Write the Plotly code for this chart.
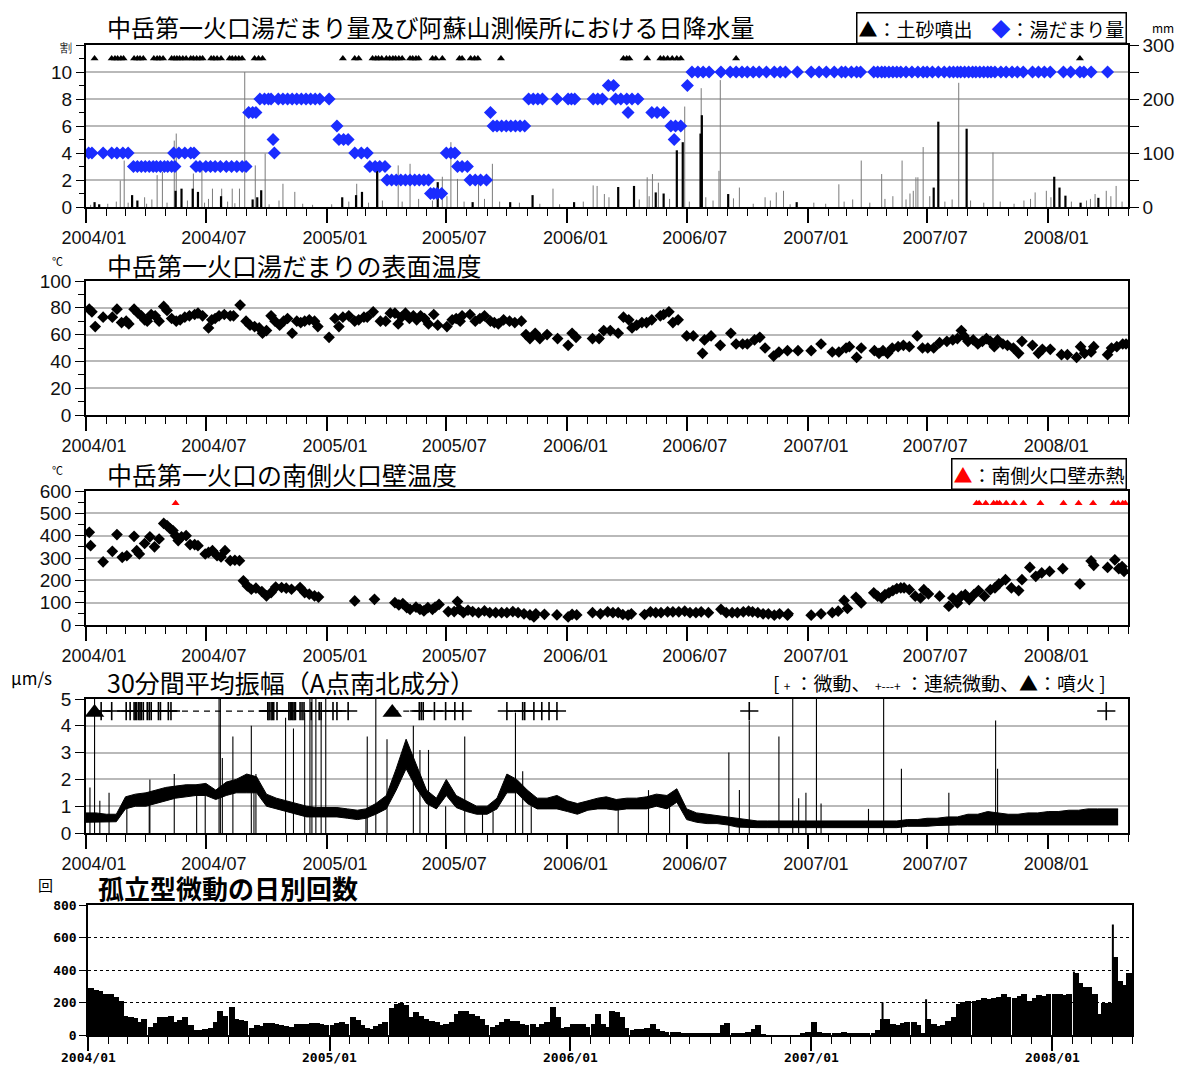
import plotly.graph_objects as go

# page body has an 8px margin; the figure is sized so the page is exactly 1188x1072
OFF = 8
W, H = 1188 - 2 * OFF, 1072 - 2 * OFF
X0, X1 = "2004-01-01", "2008-05-01"

# ---------------- Panel 1: pool volume (割), mud ejection, daily rain (mm) ----------------
pool_dates = [
    "2004-01-05", "2004-01-10", "2004-01-27", "2004-02-09", "2004-02-17", "2004-02-26", "2004-03-05",
    "2004-03-13", "2004-03-19", "2004-03-25", "2004-03-31", "2004-04-06", "2004-04-12", "2004-04-17",
    "2004-04-23", "2004-04-29", "2004-05-04", "2004-05-10", "2004-05-15",
    "2004-05-13", "2004-05-21", "2004-05-30", "2004-06-08", "2004-06-13",
    "2004-06-16", "2004-06-22", "2004-07-01", "2004-07-08", "2004-07-15", "2004-07-23", "2004-08-01",
    "2004-08-09", "2004-08-17", "2004-08-25", "2004-08-31",
    "2004-09-04", "2004-09-10", "2004-09-15",
    "2004-09-21", "2004-09-28", "2004-10-04", "2004-10-08",
    "2004-10-11", "2004-10-13",
    "2004-10-19", "2004-10-26", "2004-11-02", "2004-11-09", "2004-11-16", "2004-11-23", "2004-11-30",
    "2004-12-07", "2004-12-14", "2004-12-21", "2005-01-04",
    "2005-01-16", "2005-01-19", "2005-01-26", "2005-02-02",
    "2005-02-12", "2005-02-22", "2005-03-03",
    "2005-03-07", "2005-03-15", "2005-03-22", "2005-03-30",
    "2005-04-02", "2005-04-09", "2005-04-16", "2005-04-23", "2005-04-30", "2005-05-07", "2005-05-14",
    "2005-05-21", "2005-05-28", "2005-06-04",
    "2005-06-07", "2005-06-12", "2005-06-17", "2005-06-24",
    "2005-07-01", "2005-07-08", "2005-07-14",
    "2005-07-18", "2005-07-25", "2005-08-02",
    "2005-08-06", "2005-08-14", "2005-08-22", "2005-08-31",
    "2005-09-06",
    "2005-09-10", "2005-09-16", "2005-09-23", "2005-09-30", "2005-10-07", "2005-10-14", "2005-10-21", "2005-10-28",
    "2005-11-03", "2005-11-10", "2005-11-17", "2005-11-24", "2005-12-16",
    "2006-01-02", "2006-01-07", "2006-01-12", "2006-02-09", "2006-02-16", "2006-02-23",
    "2006-03-04", "2006-03-12",
    "2006-03-15", "2006-03-23", "2006-04-01", "2006-04-09", "2006-04-18",
    "2006-04-03",
    "2006-05-09", "2006-05-17", "2006-05-27",
    "2006-06-07", "2006-06-14", "2006-06-22",
    "2006-06-12",
    "2006-07-02",
    "2006-07-09", "2006-07-18", "2006-07-26", "2006-08-04", "2006-08-22", "2006-09-05", "2006-09-14",
    "2006-09-23", "2006-10-01", "2006-10-10", "2006-10-19", "2006-10-30", "2006-11-11", "2006-11-20",
    "2006-11-28", "2006-12-16", "2007-01-06", "2007-01-18", "2007-01-29", "2007-02-10", "2007-02-21",
    "2007-02-27", "2007-03-08", "2007-03-16", "2007-03-22", "2007-04-11", "2007-04-17", "2007-04-23",
    "2007-04-28", "2007-05-04", "2007-05-10", "2007-05-16", "2007-05-22", "2007-05-30", "2007-06-08",
    "2007-06-17", "2007-06-25", "2007-07-01", "2007-07-09", "2007-07-18", "2007-07-27", "2007-08-04",
    "2007-08-10", "2007-08-16", "2007-08-21", "2007-08-27", "2007-09-02", "2007-09-08", "2007-09-13",
    "2007-09-19", "2007-09-25", "2007-10-01", "2007-10-06", "2007-10-12", "2007-10-21", "2007-10-29",
    "2007-11-07", "2007-11-15", "2007-11-24", "2007-12-08", "2007-12-17", "2007-12-26", "2008-01-04",
    "2008-01-24", "2008-02-04", "2008-02-18", "2008-02-24", "2008-03-06", "2008-03-31", "2008-04-09",
    "2008-04-17", "2008-04-26",
]
pool_vals = (
    [4] * 7 + [3] * 12 + [4] * 5 + [3] * 11 + [7] * 3 + [8] * 4 + [5, 4] + [8] * 11
    + [6] + [5] * 3 + [4] * 3 + [3] * 4 + [2] * 10 + [1] * 4 + [4] * 3 + [3] * 3 + [2] * 4
    + [7] + [6] * 8 + [8] * 5 + [8] * 6 + [9] * 2 + [8] * 5 + [7] + [7] * 3 + [6] * 3 + [5] + [9]
    + [10] * 69
)

ejecta_dates = [
    "2004-01-14", "2004-02-09", "2004-02-14", "2004-02-18", "2004-02-23", "2004-02-27", "2004-03-14",
    "2004-03-19", "2004-03-23", "2004-03-28", "2004-04-13", "2004-04-18", "2004-04-22", "2004-04-27",
    "2004-05-10", "2004-05-14", "2004-05-18", "2004-05-22", "2004-05-27", "2004-06-01", "2004-06-08",
    "2004-06-12", "2004-06-17", "2004-06-22", "2004-06-26", "2004-07-09", "2004-07-13", "2004-07-18",
    "2004-07-24", "2004-08-06", "2004-08-10", "2004-08-15", "2004-08-20", "2004-08-25", "2004-09-13",
    "2004-09-19", "2004-09-25",
    "2005-01-25", "2005-02-12", "2005-02-18", "2005-03-11", "2005-03-16", "2005-03-20", "2005-03-25",
    "2005-04-01", "2005-04-06", "2005-04-11", "2005-04-15", "2005-04-20", "2005-04-25", "2005-05-07",
    "2005-05-11", "2005-05-16", "2005-05-20", "2005-06-10", "2005-06-15", "2005-06-25", "2005-07-21",
    "2005-07-25", "2005-08-07", "2005-08-13", "2005-08-18", "2005-09-22",
    "2006-03-27", "2006-04-01", "2006-04-05", "2006-05-02", "2006-05-22", "2006-05-27", "2006-06-02",
    "2006-06-09", "2006-06-16", "2006-06-22", "2006-09-14", "2008-02-18",
]

rain_black_dates = [
    "2004-01-14", "2004-01-21", "2004-03-11", "2004-03-19", "2004-05-16", "2004-05-25", "2004-06-11",
    "2004-06-19", "2004-07-24", "2004-09-10", "2004-09-17", "2004-09-23", "2005-01-24", "2005-02-14",
    "2005-02-23", "2005-03-18", "2005-06-18", "2005-08-10", "2005-10-06", "2005-11-09", "2006-01-11",
    "2006-03-19", "2006-04-12", "2006-05-15", "2006-05-27", "2006-06-16", "2006-06-25", "2006-07-22",
    "2006-07-24", "2006-09-02", "2006-12-15", "2007-07-11", "2007-07-18", "2007-08-30", "2008-01-10",
    "2008-01-18", "2008-01-27", "2008-02-19", "2008-03-17",
]
rain_black_mm = [
    9, 5, 22, 12, 30, 34, 34,
    28, 20, 14, 18, 31, 18, 22,
    28, 71, 46, 9, 9, 22, 9,
    37, 39, 27, 25, 105, 120, 136,
    170, 24, 9, 36, 158, 145, 56,
    36, 21, 8, 17,
]
rain_gray_dates = [
    "2004-02-22", "2004-02-28", "2004-03-30", "2004-04-18", "2004-04-26", "2004-05-14", "2004-05-17",
    "2004-06-12", "2004-06-25", "2004-07-11", "2004-07-25", "2004-08-10", "2004-08-21", "2004-08-29",
    "2004-09-14", "2004-09-29", "2004-10-26", "2004-11-13", "2005-02-15", "2005-03-19", "2005-04-19",
    "2005-05-07", "2005-06-25", "2005-07-08", "2005-07-18", "2005-08-19", "2005-09-09", "2005-12-10",
    "2006-02-09", "2006-02-15", "2006-02-26", "2006-05-02", "2006-05-10", "2006-05-19", "2006-06-28",
    "2006-07-23", "2006-08-19", "2006-08-21", "2006-09-19", "2006-11-14", "2006-11-25", "2007-02-17",
    "2007-03-23", "2007-04-23", "2007-05-24", "2007-06-14", "2007-06-17", "2007-06-25", "2007-08-18",
    "2007-10-09", "2007-12-12", "2007-12-29", "2008-03-12", "2008-03-29", "2008-04-13",
    # smaller daily amounts
    "2004-01-08", "2004-02-03", "2004-02-16", "2004-03-05", "2004-04-02", "2004-04-10", "2004-05-03",
    "2004-06-03", "2004-06-29", "2004-07-05", "2004-08-03", "2004-08-14", "2004-10-05", "2004-10-20",
    "2004-11-25", "2004-12-10", "2005-01-08", "2005-02-03", "2005-03-05", "2005-03-26", "2005-04-25",
    "2005-05-20", "2005-06-10", "2005-07-02", "2005-07-28", "2005-08-28", "2005-09-20", "2005-10-20",
    "2005-11-20", "2005-12-20", "2006-01-25", "2006-03-05", "2006-04-20", "2006-05-05", "2006-06-05",
    "2006-07-05", "2006-07-30", "2006-08-10", "2006-09-10", "2006-10-10", "2006-10-28", "2006-11-05",
    "2006-12-05", "2007-01-10", "2007-01-28", "2007-02-25", "2007-03-10", "2007-04-05", "2007-04-28",
    "2007-05-10", "2007-05-30", "2007-06-05", "2007-06-10", "2007-07-05", "2007-07-28", "2007-08-08",
    "2007-09-05", "2007-09-25", "2007-10-20", "2007-11-10", "2007-11-25", "2007-12-05", "2008-01-05",
    "2008-02-05", "2008-02-28", "2008-03-05", "2008-04-05", "2008-04-22",
]
rain_gray_mm = [
    49, 86, 18, 59, 65, 123, 136,
    62, 74, 34, 34, 34, 34, 250,
    77, 99, 43, 28, 43, 83, 77,
    80, 56, 120, 52, 49, 80, 34,
    40, 39, 24, 55, 61, 45, 186,
    220, 67, 235, 36, 27, 30, 42,
    86, 61, 86, 55, 55, 111, 230,
    101, 27, 30, 24, 30, 39,
    4, 6, 10, 8, 6, 14, 8,
    12, 8, 15, 10, 7, 5, 12,
    6, 4, 5, 10, 8, 12, 10,
    15, 12, 20, 10, 15, 10, 8,
    6, 5, 10, 18, 14, 20, 15,
    10, 18, 12, 16, 6, 18, 12,
    5, 8, 6, 10, 14, 8, 15,
    20, 14, 25, 30, 20, 10, 14,
    12, 8, 10, 6, 12, 15, 18,
    10, 12, 15, 20, 10,
]

# ---------------- Panel 2: pool surface temperature (°C) ----------------
surf_dates = [
    "2004-01-06", "2004-01-10", "2004-01-15", "2004-01-27", "2004-02-10", "2004-02-17", "2004-02-24",
    "2004-03-02", "2004-03-06", "2004-03-14", "2004-03-20", "2004-03-25", "2004-03-30", "2004-04-03",
    "2004-04-09", "2004-04-15", "2004-04-21", "2004-04-28", "2004-05-03", "2004-05-10", "2004-05-17",
    "2004-05-23", "2004-05-30", "2004-06-06", "2004-06-14", "2004-06-19", "2004-06-26", "2004-07-05",
    "2004-07-10", "2004-07-15", "2004-07-21", "2004-07-29", "2004-08-07", "2004-08-12", "2004-08-22",
    "2004-08-31", "2004-09-06", "2004-09-13", "2004-09-20", "2004-09-25", "2004-10-01", "2004-10-08",
    "2004-10-14", "2004-10-21", "2004-10-27", "2004-11-02", "2004-11-09", "2004-11-16", "2004-11-22",
    "2004-11-28", "2004-12-05", "2004-12-13", "2004-12-18", "2005-01-04", "2005-01-13", "2005-01-19",
    "2005-01-25", "2005-02-03", "2005-02-12", "2005-02-18", "2005-02-26", "2005-03-03", "2005-03-12",
    "2005-03-23", "2005-03-31", "2005-04-07", "2005-04-14", "2005-04-19", "2005-04-24", "2005-04-30",
    "2005-05-06", "2005-05-12", "2005-05-17", "2005-05-23", "2005-05-29", "2005-06-04", "2005-06-12",
    "2005-06-18", "2005-07-02", "2005-07-10", "2005-07-16", "2005-07-22", "2005-07-25", "2005-08-06",
    "2005-08-14", "2005-08-21", "2005-08-28", "2005-09-06", "2005-09-12", "2005-09-18", "2005-09-26",
    "2005-10-05", "2005-10-13", "2005-10-23", "2005-10-30", "2005-11-05", "2005-11-13", "2005-11-20",
    "2005-12-01", "2005-12-17", "2006-01-02", "2006-01-08", "2006-01-14", "2006-02-08", "2006-02-18",
    "2006-02-25", "2006-03-07", "2006-03-19", "2006-03-27", "2006-04-04", "2006-04-09", "2006-04-16",
    "2006-04-24", "2006-05-01", "2006-05-09", "2006-05-22", "2006-05-27", "2006-06-04", "2006-06-10",
    "2006-06-18", "2006-07-01", "2006-07-11", "2006-07-25", "2006-07-28", "2006-08-07", "2006-08-21",
    "2006-09-06", "2006-09-14", "2006-09-24", "2006-10-01", "2006-10-12", "2006-10-20", "2006-10-28",
    "2006-11-10", "2006-11-18", "2006-12-01", "2006-12-17", "2007-01-06", "2007-01-21", "2007-02-07",
    "2007-02-17", "2007-02-28", "2007-03-05", "2007-03-16", "2007-03-23", "2007-04-12", "2007-04-19",
    "2007-04-25", "2007-05-02", "2007-05-09", "2007-05-18", "2007-05-26", "2007-06-04", "2007-06-16",
    "2007-06-24", "2007-07-02", "2007-07-11", "2007-07-20", "2007-07-31", "2007-08-09", "2007-08-16",
    "2007-08-22", "2007-08-26", "2007-09-01", "2007-09-09", "2007-09-16", "2007-09-23", "2007-09-29",
    "2007-10-05", "2007-10-11", "2007-10-16", "2007-10-24", "2007-10-31", "2007-11-09", "2007-11-17",
    "2007-11-22", "2007-12-08", "2007-12-17", "2007-12-23", "2008-01-04", "2008-01-21", "2008-01-30",
    "2008-02-13", "2008-02-19", "2008-02-25", "2008-03-06", "2008-03-10", "2008-03-31", "2008-04-06",
    "2008-04-14", "2008-04-23", "2008-04-28",
]
surf_temp = [
    79, 77, 66, 73, 73, 79, 69,
    70, 68, 79, 76, 74, 71, 70,
    75, 74, 70, 81, 78, 72, 70,
    71, 73, 74, 75, 76, 74, 65,
    71, 72, 74, 75, 74, 74, 82,
    70, 67, 66, 65, 61, 63, 74,
    70, 67, 70, 72, 61, 70, 69,
    70, 71, 70, 66, 58, 72, 66,
    73, 74, 70, 71, 73, 73, 77,
    70, 70, 76, 76, 68, 73, 76,
    72, 74, 71, 74, 72, 68, 75,
    67, 66, 71, 72, 70, 74, 75,
    70, 72, 74, 70, 69, 68, 71,
    70, 69, 70, 60, 57, 61, 57,
    60, 57, 52, 61, 58, 57, 57,
    63, 63, 61, 73, 71, 65, 67,
    69, 69, 71, 74, 75, 77, 69,
    71, 59, 59, 46, 56, 59, 52,
    61, 53, 53, 53, 56, 58, 50,
    44, 47, 48, 48, 48, 53, 47,
    47, 50, 51, 43, 50, 48, 46,
    48, 46, 50, 51, 52, 51, 59,
    50, 50, 50, 54, 55, 56, 57,
    63, 59, 55, 56, 53, 55, 57,
    55, 51, 56, 53, 52, 50, 46,
    55, 52, 46, 49, 49, 45, 45,
    43, 51, 46, 47, 51, 45, 50,
    51, 53, 53,
]

# ---------------- Panel 3: south crater wall temperature (°C) ----------------
wall_dates = [
    "2004-01-06", "2004-01-08", "2004-01-27", "2004-02-10", "2004-02-17", "2004-02-25", "2004-03-03",
    "2004-03-14", "2004-03-18", "2004-03-22", "2004-03-30", "2004-04-07", "2004-04-14", "2004-04-21",
    "2004-04-28", "2004-05-03", "2004-05-08", "2004-05-12", "2004-05-16", "2004-05-20", "2004-05-25",
    "2004-06-01", "2004-06-07", "2004-06-14", "2004-06-19", "2004-06-30", "2004-07-05", "2004-07-11",
    "2004-07-18", "2004-07-24", "2004-07-30", "2004-08-07", "2004-08-14", "2004-08-21", "2004-08-27",
    "2004-09-02", "2004-09-08", "2004-09-15", "2004-09-24", "2004-10-01", "2004-10-08", "2004-10-15",
    "2004-10-24", "2004-10-31", "2004-11-08", "2004-11-21", "2004-11-28", "2004-12-05", "2004-12-13",
    "2004-12-19", "2005-02-12", "2005-03-14", "2005-04-14", "2005-04-20", "2005-04-26", "2005-05-02",
    "2005-05-07", "2005-05-16", "2005-05-22", "2005-05-28", "2005-06-03", "2005-06-10", "2005-06-14",
    "2005-06-20", "2005-07-04", "2005-07-13", "2005-07-18", "2005-07-21", "2005-07-27", "2005-08-03",
    "2005-08-10", "2005-08-19", "2005-08-28", "2005-09-05", "2005-09-14", "2005-09-23", "2005-10-01",
    "2005-10-10", "2005-10-18", "2005-10-27", "2005-11-05", "2005-11-11", "2005-11-14", "2005-11-27",
    "2005-12-16", "2006-01-02", "2006-01-08", "2006-01-15", "2006-02-08", "2006-02-20", "2006-03-03",
    "2006-03-11", "2006-03-19", "2006-03-26", "2006-04-03", "2006-04-08", "2006-04-28", "2006-05-07",
    "2006-05-15", "2006-05-23", "2006-06-02", "2006-06-10", "2006-06-19", "2006-06-28", "2006-07-06",
    "2006-07-15", "2006-07-23", "2006-08-03", "2006-08-22", "2006-08-30", "2006-09-08", "2006-09-16",
    "2006-09-25", "2006-10-03", "2006-10-09", "2006-10-17", "2006-10-25", "2006-11-02", "2006-11-11",
    "2006-11-19", "2006-12-01", "2006-12-02", "2007-01-06", "2007-01-21", "2007-02-07", "2007-02-16",
    "2007-02-25", "2007-03-02", "2007-03-15", "2007-03-23", "2007-04-11", "2007-04-17", "2007-04-23",
    "2007-04-28", "2007-05-04", "2007-05-10", "2007-05-16", "2007-05-22", "2007-05-27", "2007-06-04",
    "2007-06-13", "2007-06-21", "2007-06-26", "2007-07-03", "2007-07-20", "2007-08-03", "2007-08-09",
    "2007-08-16", "2007-08-22", "2007-08-28", "2007-09-03", "2007-09-10", "2007-09-17", "2007-09-26",
    "2007-10-05", "2007-10-12", "2007-10-18", "2007-10-28", "2007-11-06", "2007-11-17", "2007-11-22",
    "2007-12-04", "2007-12-13", "2007-12-22", "2008-01-03", "2008-01-23", "2008-02-18", "2008-03-06",
    "2008-03-10", "2008-03-31", "2008-04-11", "2008-04-17", "2008-04-22", "2008-04-25",
]
wall_temp = [
    415, 355, 283, 330, 405, 303, 310,
    397, 333, 318, 365, 395, 350, 385,
    455, 445, 430, 423, 400, 378, 395,
    400, 360, 360, 355, 318, 325, 333,
    310, 305, 333, 288, 290, 288, 198,
    175, 160, 165, 150, 130, 145, 170,
    168, 165, 160, 168, 145, 138, 130,
    125, 108, 115, 100, 90, 96, 78,
    70, 80, 70, 63, 78, 70, 80,
    92, 60, 60, 105, 70, 55, 66,
    60, 55, 63, 55, 55, 55, 55,
    60, 55, 50, 45, 36, 50, 48,
    45, 36, 48, 45, 55, 50, 59,
    55, 55, 47, 44, 50, 47, 59,
    55, 55, 59, 59, 59, 62, 55,
    55, 59, 55, 70, 55, 55, 55,
    59, 62, 59, 55, 50, 50, 44,
    50, 44, 50, 44, 50, 55, 62,
    110, 74, 124, 99, 144, 129, 121,
    136, 144, 154, 163, 166, 166, 158,
    129, 121, 158, 139, 129, 84, 121,
    99, 129, 136, 114, 136, 154, 129,
    158, 166, 184, 203, 166, 154, 203,
    258, 218, 233, 240, 252, 184, 287,
    267, 258, 292, 252, 262, 240, 307,
]
wall_glow_dates = [
    "2004-05-16", "2007-09-14", "2007-09-18", "2007-09-28", "2007-10-10", "2007-10-15", "2007-10-19",
    "2007-10-29", "2007-11-10", "2007-11-24", "2007-12-20", "2008-01-24", "2008-02-16", "2008-03-09",
    "2008-04-09", "2008-04-16", "2008-04-23", "2008-04-27",
]

# ---------------- Panel 4: 30-min mean amplitude (μm/s), point A N-S ----------------
months = [
    "2004-01", "2004-02", "2004-03", "2004-04", "2004-05", "2004-06", "2004-07", "2004-08", "2004-09",
    "2004-10", "2004-11", "2004-12", "2005-01", "2005-02", "2005-03", "2005-04", "2005-05", "2005-06",
    "2005-07", "2005-08", "2005-09", "2005-10", "2005-11", "2005-12", "2006-01", "2006-02", "2006-03",
    "2006-04", "2006-05", "2006-06", "2006-07", "2006-08", "2006-09", "2006-10", "2006-11", "2006-12",
    "2007-01", "2007-02", "2007-03", "2007-04", "2007-05", "2007-06", "2007-07", "2007-08", "2007-09",
    "2007-10", "2007-11", "2007-12", "2008-01", "2008-02", "2008-03", "2008-04",
]
amp_low = [
    0.40, 0.40, 0.40, 0.42, 0.90, 1.00, 1.00, 1.10, 1.20, 1.30, 1.35, 1.40, 1.40, 1.25, 1.40, 1.50,
    1.50, 1.50, 1.00, 0.90, 0.80, 0.70, 0.60, 0.60,
    0.60, 0.60, 0.55, 0.50, 0.55, 0.70, 0.90, 1.60, 2.40, 1.70, 1.10, 0.90, 1.40, 0.95, 0.80, 0.70,
    0.70, 0.90, 1.50, 1.50, 1.10, 0.90, 0.90, 0.90,
    0.80, 0.70, 0.85, 0.90, 0.90, 0.85, 0.90, 0.90, 0.90, 1.00, 0.90, 1.15, 0.50, 0.40, 0.35, 0.35,
    0.30, 0.22, 0.20, 0.20, 0.20, 0.20, 0.20, 0.20,
    0.20, 0.20, 0.20, 0.20, 0.20, 0.20, 0.20, 0.20, 0.20, 0.20, 0.25, 0.25, 0.25, 0.28, 0.30, 0.30,
    0.30, 0.30, 0.30, 0.30, 0.30, 0.30, 0.30, 0.30,
    0.30, 0.30, 0.30, 0.30, 0.30, 0.30, 0.30, 0.30,
]
amp_high = [
    0.75, 0.75, 0.70, 0.70, 1.35, 1.45, 1.50, 1.60, 1.70, 1.75, 1.80, 1.80, 1.85, 1.60, 1.90, 2.00,
    2.20, 2.10, 1.45, 1.30, 1.20, 1.10, 1.00, 0.95,
    0.95, 0.95, 0.90, 0.85, 0.90, 1.10, 1.40, 2.40, 3.50, 2.60, 1.60, 1.30, 2.00, 1.40, 1.20, 1.00,
    1.00, 1.30, 2.20, 2.00, 1.60, 1.30, 1.30, 1.40,
    1.20, 1.10, 1.20, 1.30, 1.35, 1.25, 1.30, 1.30, 1.35, 1.45, 1.40, 1.65, 0.90, 0.75, 0.70, 0.65,
    0.60, 0.55, 0.50, 0.45, 0.45, 0.45, 0.45, 0.45,
    0.45, 0.45, 0.45, 0.45, 0.45, 0.45, 0.45, 0.45, 0.45, 0.45, 0.50, 0.50, 0.55, 0.55, 0.60, 0.60,
    0.70, 0.70, 0.80, 0.75, 0.70, 0.70, 0.75, 0.75,
    0.80, 0.80, 0.85, 0.85, 0.90, 0.90, 0.90, 0.90,
]
amp_spike_dates = [
    "2004-01-07", "2004-01-14", "2004-01-22", "2004-02-05", "2004-03-03", "2004-04-06", "2004-04-07",
    "2004-05-14", "2004-06-17", "2004-06-30", "2004-07-21", "2004-07-23", "2004-07-26", "2004-08-11",
    "2004-09-08", "2004-09-12", "2004-09-15", "2004-10-30", "2004-11-11", "2004-11-28", "2004-12-06",
    "2004-12-09", "2004-12-15", "2004-12-23", "2004-12-30", "2005-03-01", "2005-03-03", "2005-03-16",
    "2005-04-02", "2005-05-12", "2005-05-22", "2005-06-04", "2005-06-30", "2005-07-29", "2005-08-25",
    "2005-09-10", "2005-10-14", "2005-10-25", "2005-11-07",
    "2006-03-19", "2006-05-04", "2006-06-05", "2006-09-03", "2006-09-19", "2006-10-04", "2006-11-18",
    "2006-12-09", "2006-12-18", "2006-12-29", "2007-01-14", "2007-01-21", "2007-04-03", "2007-04-26",
    "2007-05-23", "2007-08-03", "2007-10-13", "2007-10-16",
]
amp_spike_vals = [
    1.7, 5.0, 1.2, 1.5, 1.0, 1.2, 2.0,
    2.2, 1.6, 1.4, 5.0, 5.0, 2.8, 3.6,
    4.0, 1.6, 2.2, 4.3, 3.9, 4.5, 5.0,
    5.0, 5.0, 4.5, 5.0, 0.6, 3.6, 5.0,
    3.5, 4.0, 3.1, 3.1, 1.0, 3.6, 0.8,
    0.8, 4.5, 2.3, 1.0,
    0.9, 1.6, 1.0, 3.0, 1.6, 4.2, 3.6,
    5.0, 1.3, 1.5, 5.0, 1.1, 0.9, 5.0,
    2.4, 1.5, 4.2, 2.4,
]
tremor_dates = [
    "2004-01-24", "2004-02-09", "2004-03-02", "2004-03-08", "2004-03-14", "2004-03-16", "2004-03-18",
    "2004-03-21", "2004-03-23", "2004-03-25", "2004-03-28", "2004-04-03", "2004-04-06", "2004-04-09",
    "2004-04-20", "2004-04-23", "2004-05-05", "2004-05-09", "2004-10-03", "2004-10-05", "2004-10-08",
    "2004-10-10", "2004-10-12", "2004-10-17", "2004-11-04", "2004-11-06", "2004-11-08", "2004-11-10",
    "2004-11-12", "2004-11-14", "2004-11-21", "2004-11-24", "2004-11-27", "2004-12-08", "2004-12-20",
    "2004-12-23", "2005-01-10", "2005-01-16", "2005-02-02", "2005-05-21", "2005-05-24", "2005-05-27",
    "2005-06-13", "2005-06-30", "2005-07-14", "2005-07-26", "2005-10-01", "2005-10-25", "2005-10-28",
    "2005-11-11", "2005-11-23", "2005-12-04", "2005-12-16", "2006-10-04", "2008-03-29",
]
cont_start = ["2004-01-14", "2004-03-02", "2004-05-09", "2004-10-03", "2005-04-10", "2005-10-01"]
cont_end = ["2004-02-09", "2004-05-09", "2004-10-03", "2005-01-16", "2005-07-26", "2005-12-16"]
eruption_dates = ["2004-01-14", "2005-04-10"]

# ---------------- Panel 5: daily count of isolated tremor (4 readings per month) ----------------
count_days = ["01", "08", "15", "22"]
count_vals = [
    290, 280, 268, 255, 250, 235, 210, 120, 108, 103, 80, 100, 50, 75, 110, 110,
    115, 80, 95, 110, 60, 30, 32, 40, 45, 80, 150, 120, 170, 100, 90, 85,
    45, 60, 55, 75, 75, 70, 60, 55, 50, 65, 65, 70, 75, 72, 70, 60,
    60, 75, 80, 70, 110, 90, 60, 45, 40, 55, 65, 80, 165, 190, 200, 185,
    110, 140, 120, 100, 85, 80, 62, 65, 80, 130, 145, 145, 130, 118, 100, 62,
    52, 62, 78, 100, 85, 88, 70, 62, 65, 52, 68, 80, 175, 110, 45, 50,
    70, 65, 70, 52, 70, 130, 70, 50, 145, 140, 110, 45, 30, 35, 40, 45,
    70, 35, 25, 20, 20, 20, 15, 10, 10, 10, 10, 15, 15, 10, 60, 75,
    10, 10, 10, 20, 35, 60, 5, 0, 0, 0, 0, 0, 0, 0, 10, 20,
    80, 20, 10, 10, 10, 15, 20, 10, 10, 10, 10, 10, 10, 30, 100, 100,
    70, 60, 75, 80, 80, 60, 10, 100, 70, 55, 60, 85, 110, 190, 205, 210,
    210, 215, 225, 220, 225, 235, 255, 235, 230, 240, 250, 210, 230, 245, 240, 250,
    250, 250, 248, 255, 380, 320, 295, 295, 250, 130, 195, 200, 480, 330, 310, 380,
]
count_spike_dates = ["2004-02-03", "2007-04-19", "2007-06-24", "2008-02-03", "2008-04-02"]
count_spike_vals = [250, 200, 220, 390, 680]
count_year_ticks = ["2004-01-01", "2005-01-01", "2006-01-01", "2007-01-01", "2008-01-01"]
count_year_labels = ["2004/01", "2005/01", "2006/01", "2007/01", "2008/01"]


# ---------------- helpers (reference-pixel -> paper coords) ----------------
def px(x):
    return (x - OFF) / W


def py(y):
    return 1 - (y - OFF) / H


def segs(dates, vals, base=0):
    xs, ys = [], []
    for d, v in zip(dates, vals):
        xs += [d, d, None]
        ys += [base, v, None]
    return xs, ys


BLUE = "#1a2cff"
GRID = "#b9b9b9"
XTICKFONT = dict(family="Liberation Sans, Arial, sans-serif", size=18, color="#111111")
YTICKFONT = dict(family="Liberation Sans, Arial, sans-serif", size=19, color="#111111")
JP = "Noto Sans CJK JP, sans-serif"
MONO = dict(family="DejaVu Sans Mono, monospace", size=13, color="black", weight="bold")

fig = go.Figure()

# Panel 1
bx, by = segs(rain_gray_dates, rain_gray_mm)
fig.add_trace(go.Scatter(x=bx, y=by, mode="lines", line=dict(color="#7a7a7a", width=1),
                         xaxis="x", yaxis="y", hoverinfo="skip"))
bx, by = segs(rain_black_dates, rain_black_mm)
fig.add_trace(go.Scatter(x=bx, y=by, mode="lines", line=dict(color="black", width=2.2),
                         xaxis="x", yaxis="y", hoverinfo="skip"))
fig.add_trace(go.Scatter(x=pool_dates, y=pool_vals, mode="markers",
                         marker=dict(symbol="diamond", size=10, color=BLUE), xaxis="x", yaxis="y6"))
fig.add_trace(go.Scatter(x=ejecta_dates, y=[11] * len(ejecta_dates), mode="markers",
                         marker=dict(symbol="triangle-up", size=7, color="black"), xaxis="x", yaxis="y6"))

# Panel 2
fig.add_trace(go.Scatter(x=surf_dates, y=surf_temp, mode="markers",
                         marker=dict(symbol="diamond", size=9, color="black"), xaxis="x2", yaxis="y2"))

# Panel 3
fig.add_trace(go.Scatter(x=wall_dates, y=wall_temp, mode="markers",
                         marker=dict(symbol="diamond", size=9, color="black"), xaxis="x3", yaxis="y3"))
fig.add_trace(go.Scatter(x=wall_glow_dates, y=[545] * len(wall_glow_dates), mode="markers",
                         marker=dict(symbol="triangle-up", size=7, color="#ff0000"), xaxis="x3", yaxis="y3"))

# Panel 4
amp_dates = []
for m in months:
    amp_dates += [m + "-01", m + "-16"]
sx, sy = segs(amp_spike_dates, amp_spike_vals)
fig.add_trace(go.Scatter(x=sx, y=sy, mode="lines", line=dict(color="black", width=1.1),
                         xaxis="x4", yaxis="y4", hoverinfo="skip"))
fig.add_trace(go.Scatter(x=amp_dates, y=amp_high, mode="lines", line=dict(color="black", width=1),
                         xaxis="x4", yaxis="y4"))
fig.add_trace(go.Scatter(x=amp_dates, y=amp_low, mode="lines", line=dict(color="black", width=1),
                         fill="tonexty", fillcolor="black", xaxis="x4", yaxis="y4"))
cx, cy = [], []
for s, e in zip(cont_start, cont_end):
    cx += [s, e, None]
    cy += [4.55, 4.55, None]
fig.add_trace(go.Scatter(x=cx, y=cy, mode="lines", line=dict(color="black", width=1.3, dash="6px,5px"),
                         xaxis="x4", yaxis="y4", hoverinfo="skip"))
fig.add_trace(go.Scatter(x=tremor_dates, y=[4.55] * len(tremor_dates), mode="markers",
                         marker=dict(symbol="cross-thin", size=13, line=dict(color="black", width=1.6)),
                         xaxis="x4", yaxis="y4"))
fig.add_trace(go.Scatter(x=eruption_dates, y=[4.5] * len(eruption_dates), mode="markers",
                         marker=dict(symbol="triangle-up", size=17, color="black"), xaxis="x4", yaxis="y4"))

# Panel 5
count_dates = []
for m in months:
    count_dates += [m + "-" + d for d in count_days]
fig.add_trace(go.Bar(x=count_dates, y=count_vals, width=9 * 86400000, offset=0,
                     marker=dict(color="black", line=dict(width=0)), xaxis="x5", yaxis="y5"))
kx, ky = segs(count_spike_dates, count_spike_vals)
fig.add_trace(go.Scatter(x=kx, y=ky, mode="lines", line=dict(color="black", width=2),
                         xaxis="x5", yaxis="y5", hoverinfo="skip"))

# ---------------- axes ----------------
dom_x = [px(86), px(1128)]
dom_x5 = [px(88), px(1132)]


def xaxis(anchor, domain=dom_x):
    return dict(type="date", range=[X0, X1], domain=domain, anchor=anchor, automargin=False,
                showline=True, mirror=True, linecolor="black", linewidth=1.5,
                ticks="outside", ticklen=14, tickwidth=1.5, tickcolor="black",
                dtick="M6", tick0="2004-01-01", tickformat="%Y/%m", tickfont=XTICKFONT,
                ticklabelshift=8, ticklabelstandoff=0,
                minor=dict(dtick="M1", tick0="2004-01-01", ticks="outside", ticklen=7,
                           tickwidth=1.2, tickcolor="black", showgrid=False),
                showgrid=False, zeroline=False, fixedrange=True)


def yaxis(anchor, domain, rng, dtick, minor_vals):
    return dict(domain=domain, anchor=anchor, range=rng, dtick=dtick, tick0=0, automargin=False,
                showline=True, mirror=True, linecolor="black", linewidth=1.5,
                ticks="outside", ticklen=9, tickwidth=1.3, tickcolor="black",
                tickfont=YTICKFONT, showgrid=True, gridcolor=GRID, gridwidth=1.5,
                minor=dict(tickvals=minor_vals, ticks="outside", ticklen=6, tickwidth=1.2,
                           tickcolor="black", showgrid=False),
                zeroline=False, fixedrange=True)


d1 = [py(207), py(45)]
d2 = [py(415), py(281)]
d3 = [py(625), py(491)]
d4 = [py(833), py(699)]
d5 = [py(1035), py(905)]

fig.update_layout(
    width=W, height=H, autosize=False,
    margin=dict(l=0, r=0, t=0, b=0, pad=0, autoexpand=False),
    paper_bgcolor="white", plot_bgcolor="white",
    showlegend=False, bargap=0,
    xaxis=xaxis("y"),
    yaxis=dict(domain=d1, anchor="x", side="right", range=[0, 300], automargin=False,
               tickvals=[0, 100, 200, 300], showline=True, mirror=True, linecolor="black", linewidth=1.5,
               ticks="outside", ticklen=9, tickwidth=1.3, tickcolor="black", tickfont=YTICKFONT,
               showgrid=True, gridcolor=GRID, gridwidth=1.5,
               minor=dict(tickvals=[50, 150, 250], ticks="outside", ticklen=9, tickwidth=1.3,
                          tickcolor="black", showgrid=True, gridcolor=GRID, gridwidth=1.5),
               zeroline=False, fixedrange=True),
    yaxis6=dict(overlaying="y", anchor="x", side="left", range=[0, 12], automargin=False,
                tickvals=[0, 2, 4, 6, 8, 10, 12],
                ticktext=["0", "2", "4", "6", "8", "10", "<span style='font-size:12px'>割</span>"],
                ticks="outside", ticklen=9, tickwidth=1.3, tickcolor="black", tickfont=YTICKFONT,
                minor=dict(tickvals=[1, 3, 5, 7, 9, 11], ticks="outside", ticklen=6, tickwidth=1.2,
                           tickcolor="black", showgrid=False),
                showgrid=False, zeroline=False, showline=False, fixedrange=True),
    xaxis2=xaxis("y2"),
    yaxis2=yaxis("x2", d2, [0, 100], 20, [10, 30, 50, 70, 90]),
    xaxis3=xaxis("y3"),
    yaxis3=yaxis("x3", d3, [0, 600], 100, [50, 150, 250, 350, 450, 550]),
    xaxis4=xaxis("y4"),
    yaxis4=yaxis("x4", d4, [0, 5], 1, []),
    xaxis5=dict(type="date", range=[X0, X1], domain=dom_x5, anchor="y5", automargin=False,
                showline=True, mirror=True, linecolor="black", linewidth=1.5,
                ticks="outside", ticklen=14, tickwidth=1.5, tickcolor="black",
                dtick="M12", tick0="2004-01-01", showticklabels=False,
                minor=dict(dtick="M1", tick0="2004-01-01", ticks="outside", ticklen=7,
                           tickwidth=1.2, tickcolor="black", showgrid=False),
                showgrid=False, zeroline=False, fixedrange=True),
    yaxis5=dict(domain=d5, anchor="x5", range=[0, 800], dtick=200, tick0=0, automargin=False,
                showline=True, mirror=True, linecolor="black", linewidth=1.5,
                ticks="outside", ticklen=7, tickwidth=1.3, tickcolor="black", tickfont=MONO,
                showgrid=True, gridcolor="black", gridwidth=1, griddash="dot",
                zeroline=False, fixedrange=True),
)

# year labels of the bottom panel (kept inside the page)
for d, lab in zip(count_year_ticks, count_year_labels):
    fig.add_annotation(text=lab, x=d, xref="x5", y=py(1057), yref="paper", xanchor="center",
                       yanchor="middle", showarrow=False, font=MONO)


# ---------------- texts ----------------
def note(text, x, y, size, anchor="left", **kw):
    fig.add_annotation(text=text, x=px(x), y=py(y), xref="paper", yref="paper",
                       xanchor=anchor, yanchor="middle", showarrow=False,
                       font=dict(family=JP, size=size, color="black"), **kw)


note("中岳第一火口湯だまり量及び阿蘇山測候所における日降水量", 105, 26, 24)
note("mm", 1163, 28, 12, anchor="center")
note("▲：土砂噴出　<span style='color:%s'>◆</span>：湯だまり量" % BLUE, 1127, 28, 19, anchor="right",
     bordercolor="black", borderwidth=1.5, borderpad=1, bgcolor="white")

note("℃", 57, 261, 11, anchor="center")
note("中岳第一火口湯だまりの表面温度", 105, 265, 25)

note("℃", 57, 470, 11, anchor="center")
note("中岳第一火口の南側火口壁温度", 105, 474, 25)
note("<span style='color:#ff0000'>▲</span>：南側火口壁赤熱", 1127, 474, 19, anchor="right",
     bordercolor="black", borderwidth=1.5, borderpad=1, bgcolor="white")

note("μm/s", 9, 677, 17)
note("30分間平均振幅（A点南北成分）", 105, 682, 25)
note("[ <span style='font-size:12px'>+</span> ：微動、 <span style='font-size:12px'>+---+</span> ：連続微動、▲：噴火 ]",
     1108, 682, 19, anchor="right")

note("回", 45, 884, 15, anchor="center")
note("<b>孤立型微動の日別回数</b>", 96, 887, 26)

fig.write_html("out.html")
